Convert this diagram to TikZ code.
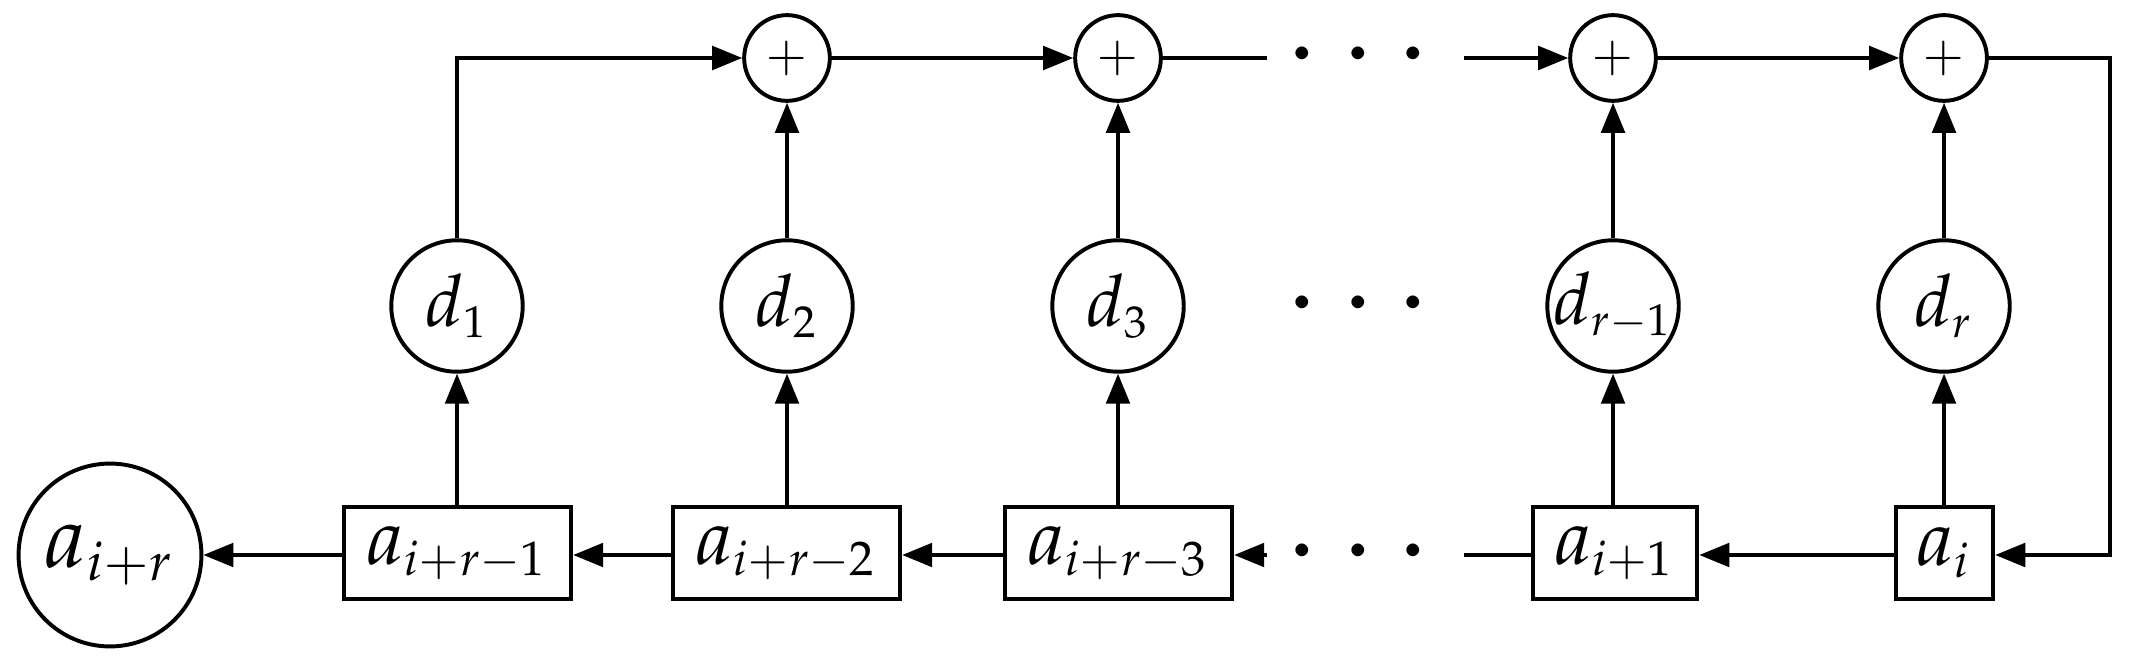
\documentclass[tikz,border=0pt]{standalone}
\usepackage{mathpazo}
\usepackage{graphicx}
\DeclareMathSizes{10}{11}{6.8}{5}
\usetikzlibrary{arrows.meta}
\newcommand{\zw}[1]{\makebox[0pt]{#1}}
\newcommand{\dl}[1]{\makebox[0pt]{\scalebox{0.92}{#1}}}
\begin{document}
\begin{tikzpicture}[x=0.14pt,y=-0.14pt,line width=0.5pt,
  reg/.style={draw,line width=0.6pt,inner sep=0pt,minimum height=12.9pt},
  coef/.style={draw,circle,line width=0.55pt,inner sep=0pt,minimum size=18.4pt},
  adder/.style={draw,circle,line width=0.55pt,inner sep=0pt,minimum size=12pt,font=\scriptsize},
  arr/.style={-{Triangle[length=4.2pt,width=3.3pt]}},
  dotsn/.style={inner sep=0pt,anchor=base,font=\fontsize{16.2}{18}\selectfont}]
\useasboundingbox (0,0) rectangle (2131,666);
% bottom row
\node[draw,circle,line width=0.55pt,inner sep=0pt,minimum size=25.6pt] (out) at (110,555) {\zw{\scalebox{1.12}{$a_{i+r}$}}};
\node[reg,minimum width=31.8pt] (b1) at (457.5,553) {$a_{i+r-1}$};
\node[reg,minimum width=31.8pt] (b2) at (786.5,553) {$a_{i+r-2}$};
\node[reg,minimum width=31.8pt] (b3) at (1118.5,553) {$a_{i+r-3}$};
\node[reg,minimum width=23pt] (b4) at (1615,553) {$a_{i+1}$};
\node[reg,minimum width=13.6pt] (b5) at (1944.5,553) {$a_{i}$};
\node[dotsn] (bd) at (1358,552+28.6) {$\cdots$};
\coordinate (bl) at (1267,555);
\coordinate (br) at (1464,555);
% middle row
\node[coef] (d1) at (457,306) {\dl{$d_1$}};
\node[coef] (d2) at (787,306) {\dl{$d_2$}};
\node[coef] (d3) at (1118,306) {\dl{$d_3$}};
\node[coef] (d4) at (1613,306) {\dl{$d_{r-1}$}};
\node[coef] (d5) at (1944,306) {\dl{$d_r$}};
\node[dotsn] (md) at (1358,304+28.6) {$\cdots$};
% top row
\node[adder] (p1) at (787,58) {$+$};
\node[adder] (p2) at (1118,58) {$+$};
\node[adder] (p3) at (1613,58) {$+$};
\node[adder] (p4) at (1944,58) {$+$};
\node[dotsn] (td) at (1358,55+28.6) {$\cdots$};
\coordinate (tl) at (1267,58);
\coordinate (tr) at (1464,58);
\coordinate (c2) at (2110,58);
\coordinate (c3) at (2110,555);
% connectors bottom
\draw[arr] (b1.west |- out) -- (out);
\draw[arr] (b2.west |- out) -- (b1.east |- out);
\draw[arr] (b3.west |- out) -- (b2.east |- out);
\draw[arr] (bl) -- (b3.east |- bl);
\draw (b4.west |- br) -- (br);
\draw[arr] (b5.west |- br) -- (b4.east |- br);
% vertical
\draw[arr] (b1.north -| d1) -- (d1);
\draw[arr] (b2.north -| d2) -- (d2);
\draw[arr] (b3.north -| d3) -- (d3);
\draw[arr] (b4.north -| d4) -- (d4);
\draw[arr] (b5.north -| d5) -- (d5);
\draw[arr] (d2) -- (p1);
\draw[arr] (d3) -- (p2);
\draw[arr] (d4) -- (p3);
\draw[arr] (d5) -- (p4);
% top
\draw[arr] (d1) |- (p1);
\draw[arr] (p1) -- (p2);
\draw (p2) -- (tl);
\draw[arr] (tr) -- (p3);
\draw[arr] (p3) -- (p4);
\draw[arr] (p4) -- (c2) -- (c3) -- (b5.east |- c3);
\end{tikzpicture}
\end{document}
